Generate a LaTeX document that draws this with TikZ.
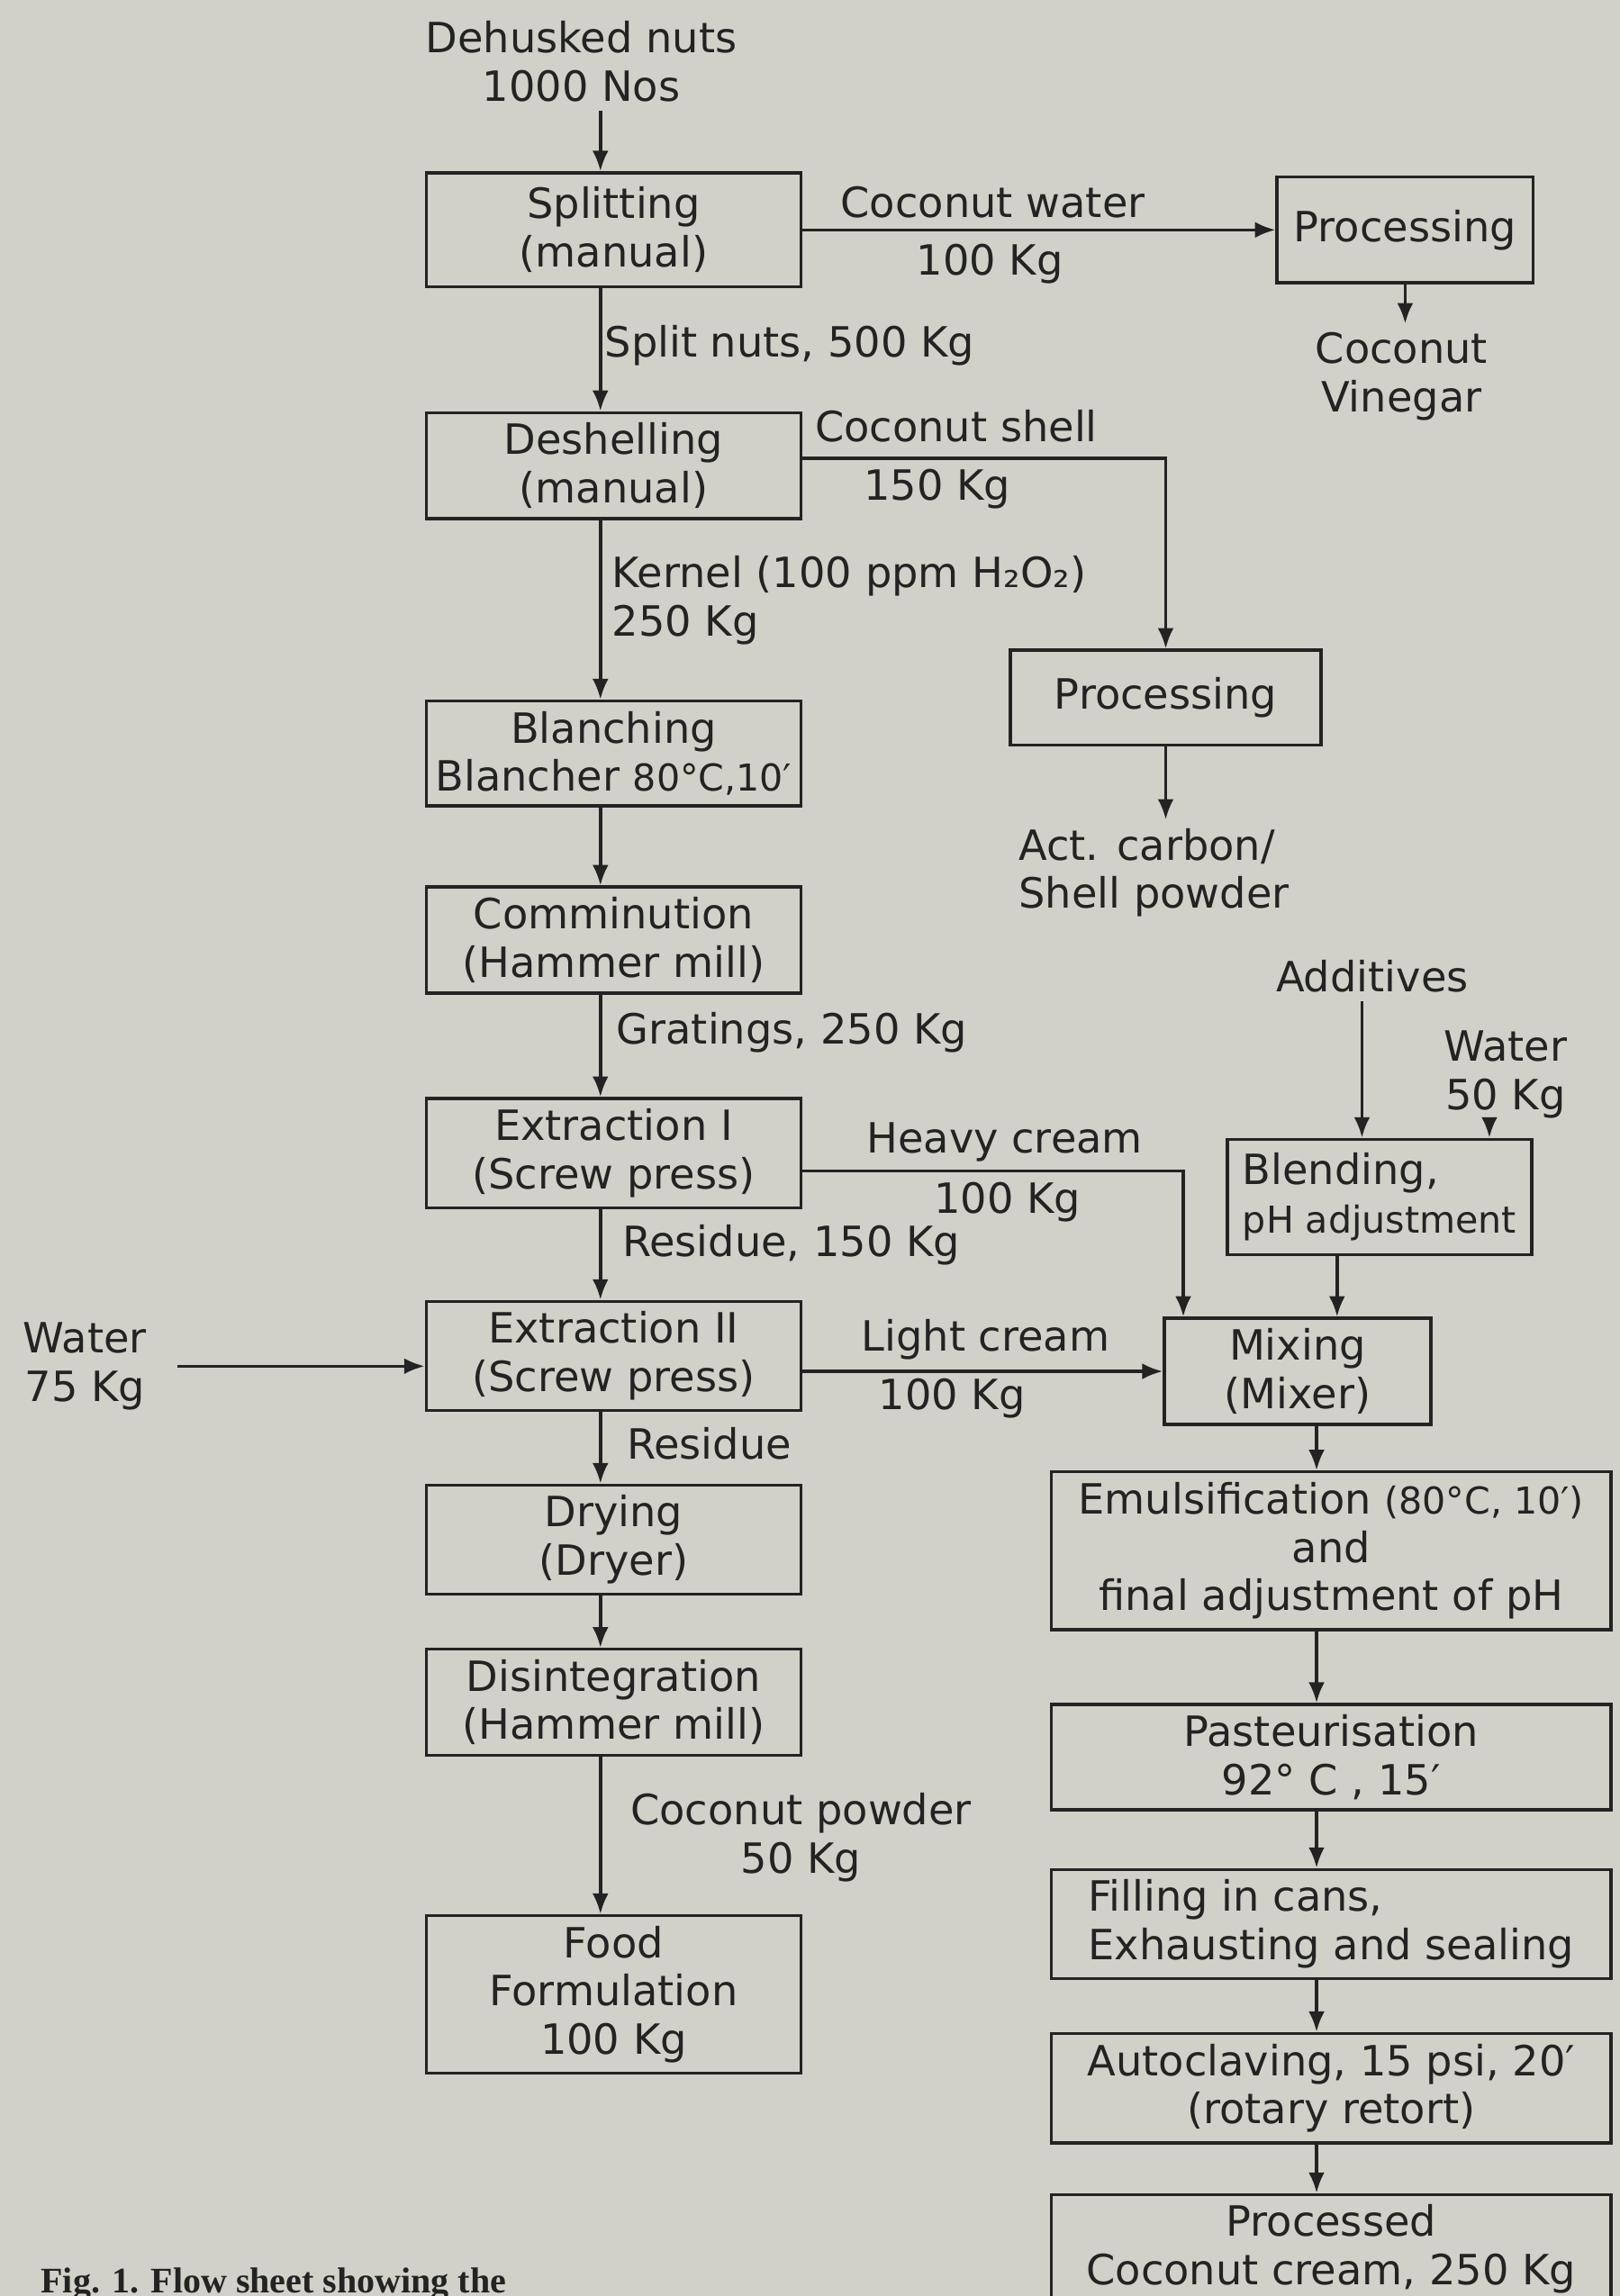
\documentclass[tikz,border=0pt]{standalone}
\usepackage{fontspec}
\setmainfont{DejaVu Sans}
\newfontfamily\capfont{Liberation Serif}
\usetikzlibrary{arrows.meta,positioning}
\definecolor{paper}{RGB}{210,209,201}
\definecolor{ink}{RGB}{35,35,35}
\newcommand{\narrow}[1]{{\fontsize{7.2}{9.4}\selectfont #1}}

\begin{document}
\begin{tikzpicture}[font=\fontsize{8.1}{9.4}\selectfont,>=Latex,
 box/.style={draw=ink,text=ink,line width=0.6pt,align=center,inner xsep=1pt,inner ysep=2pt},
 mainbox/.style={box,minimum width=2.56cm},
 rightbox/.style={box,minimum width=3.82cm},
 lbl/.style={text=ink,inner sep=1.5pt,align=center},
 flow/.style={-{Latex[length=1.4mm,width=1.1mm]},draw=ink,line width=0.6pt}]
\fill[paper] (0,0) rectangle (11.06,-15.68);
\useasboundingbox (0,0) rectangle (11.06,-15.68);
% lines the vertical arrows run on
\coordinate (mainx) at (4.10,0);
\coordinate (rightx) at (8.99,0);
\coordinate (hcx) at (8.08,0);
\coordinate (ax) at (9.30,0);
\coordinate (wx) at (10.17,0);
\coordinate (bx) at (9.13,0);

% main column
\node[lbl] (dehusk) at (3.97,-0.42) {Dehusked nuts\\1000 Nos};
\node[mainbox,minimum height=7.8mm] (split) at (4.19,-1.57) {Splitting\\(manual)};
\node[mainbox,minimum height=6.8mm] (deshell) at (4.19,-3.18) {Deshelling\\(manual)};
\node[mainbox,minimum height=7.1mm] (blanch) at (4.19,-5.145) {Blanching\\Blancher \narrow{80°C,10′}};
\node[mainbox,minimum height=6.8mm] (commin) at (4.19,-6.42) {Comminution\\(Hammer mill)};
\node[mainbox,minimum height=7.1mm] (ext1) at (4.19,-7.875) {Extraction I\\(Screw press)};
\node[mainbox,minimum height=6.8mm] (ext2) at (4.19,-9.26) {Extraction II\\(Screw press)};
\node[mainbox,minimum height=6.7mm] (dry) at (4.19,-10.515) {Drying\\(Dryer)};
\node[mainbox,minimum height=6.9mm] (disint) at (4.19,-11.625) {Disintegration\\(Hammer mill)};
\node[mainbox,minimum height=10.6mm] (food) at (4.19,-13.62) {Food\\Formulation\\100 Kg};

% by-products
\node[box,minimum width=1.75cm,minimum height=7.2mm] (proc1) at (9.595,-1.57) {Processing};
\node[lbl] (vinegar) at (9.57,-2.57) {Coconut\\Vinegar};
\node[box,minimum width=2.12cm,minimum height=6.5mm] (proc2) at (7.96,-4.765) {Processing};
\node[lbl,align=left] (actc) at (7.88,-5.96) {Act. carbon/\\Shell powder};
\node[lbl] (water1) at (0.58,-9.33) {Water\\75 Kg};

% cream line
\node[lbl] (adds) at (9.37,-6.67) {Additives};
\node[lbl] (water2) at (10.28,-7.34) {Water\\50 Kg};
\node[box,align=left,minimum width=2.08cm,minimum height=7.9mm] (blend) at (9.42,-8.175) {Blending,\\\narrow{pH adjustment}};
\node[box,minimum width=1.82cm,minimum height=6.7mm] (mix) at (8.86,-9.365) {Mixing\\(Mixer)};
\node[rightbox,minimum height=9.8mm] (emul) at (9.09,-10.59) {Emulsification \narrow{(80°C, 10′)}\\and\\final adjustment of pH};
\node[rightbox,minimum height=6.4mm] (past) at (9.09,-12.0) {Pasteurisation\\92° C , 15′};
\node[rightbox,align=left,minimum height=7.2mm] (fill) at (9.09,-13.14) {Filling in cans,\\Exhausting and sealing};
\node[rightbox,minimum height=7.2mm] (auto) at (9.09,-14.26) {Autoclaving, 15 psi, 20′\\(rotary retort)};
\node[rightbox,minimum height=6.0mm] (procd) at (9.09,-15.36) {Processed\\Coconut cream, 250 Kg};

% labels
\node[lbl] (cw1) at (6.78,-1.38) {Coconut water};
\node[lbl] (cw2) at (6.76,-1.80) {100 Kg};
\node[lbl,anchor=west] (splitn) at (4.07,-2.36) {Split nuts, 500 Kg};
\node[lbl] (cs1) at (6.53,-2.91) {Coconut shell};
\node[lbl] (cs2) at (6.40,-3.34) {150 Kg};
\node[lbl,anchor=west,align=left] (kern) at (4.12,-4.10) {Kernel (100 ppm H₂O₂)\\250 Kg};
\node[lbl,anchor=west] (grat) at (4.15,-7.05) {Gratings, 250 Kg};
\node[lbl] (hc1) at (6.86,-7.80) {Heavy cream};
\node[lbl] (hc2) at (6.88,-8.21) {100 Kg};
\node[lbl,anchor=west] (res1) at (4.19,-8.50) {Residue, 150 Kg};
\node[lbl] (lc1) at (6.73,-9.15) {Light cream};
\node[lbl] (lc2) at (6.50,-9.55) {100 Kg};
\node[lbl,anchor=west] (res2) at (4.22,-9.86) {Residue};
\node[lbl] (cpow) at (5.47,-12.55) {Coconut powder\\50 Kg};
\node[lbl,anchor=base west,font=\capfont\bfseries\fontsize{7}{8}\selectfont] (fig) at (0.22,-15.66) {Fig. 1. Flow sheet showing the};

% connectors
\draw[flow] (dehusk.south -| mainx) -- (split.north -| mainx);
\draw[flow] (split.south -| mainx) -- (deshell.north -| mainx);
\draw[flow] (deshell.south -| mainx) -- (blanch.north -| mainx);
\draw[flow] (blanch.south -| mainx) -- (commin.north -| mainx);
\draw[flow] (commin.south -| mainx) -- (ext1.north -| mainx);
\draw[flow] (ext1.south -| mainx) -- (ext2.north -| mainx);
\draw[flow] (ext2.south -| mainx) -- (dry.north -| mainx);
\draw[flow] (dry.south -| mainx) -- (disint.north -| mainx);
\draw[flow] (disint.south -| mainx) -- (food.north -| mainx);
\draw[flow] (split) -- (proc1);
\draw[flow] (proc1.south) -- (proc1.south |- vinegar.north);
\draw[flow] ([yshift=0.5mm]deshell.east) -| (proc2.north);
\draw[flow] (proc2.south) -- (proc2.south |- actc.north);
\draw[flow] ([yshift=-1.2mm]ext1.east) -| (mix.north -| hcx);
\draw[flow] (ext2.east |- mix.west) -- (mix.west);
\draw[flow] ([xshift=1.5mm]water1.east) -- (ext2.west |- water1.east);
\draw[flow] (adds.south -| ax) -- (blend.north -| ax);
\draw[flow] (water2.south -| wx) -- (blend.north -| wx);
\draw[flow] (blend.south -| bx) -- (mix.north -| bx);
\draw[flow] (mix.south -| rightx) -- (emul.north -| rightx);
\draw[flow] (emul.south -| rightx) -- (past.north -| rightx);
\draw[flow] (past.south -| rightx) -- (fill.north -| rightx);
\draw[flow] (fill.south -| rightx) -- (auto.north -| rightx);
\draw[flow] (auto.south -| rightx) -- (procd.north -| rightx);
\end{tikzpicture}
\end{document}
